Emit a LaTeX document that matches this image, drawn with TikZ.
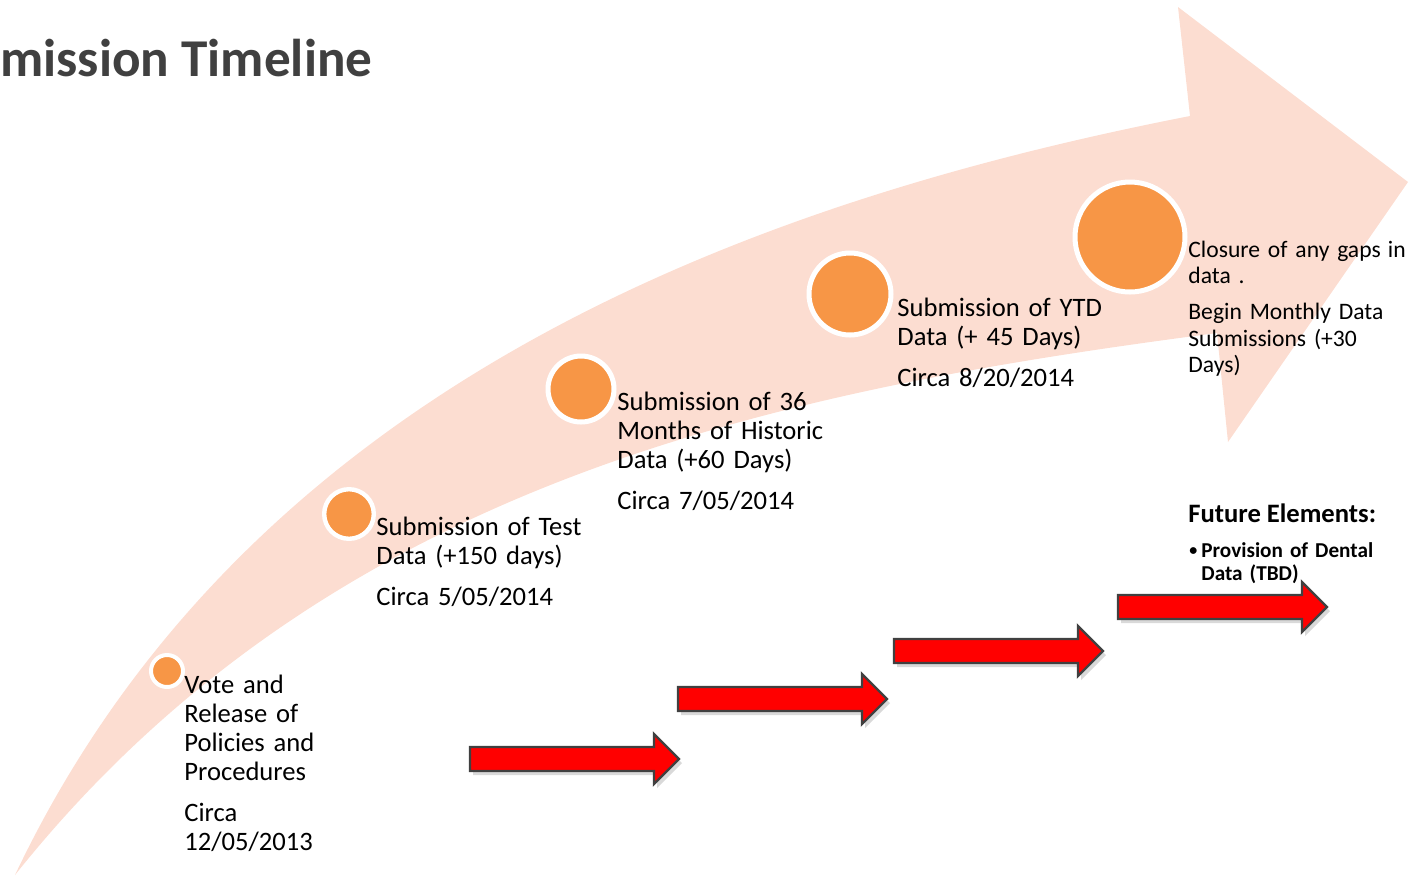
\documentclass[tikz,border=0pt]{standalone}
\usepackage{fontspec}
\setmainfont{Carlito}
\usetikzlibrary{shadows}
\definecolor{bandpink}{RGB}{252,221,209}
\definecolor{stoporange}{RGB}{247,150,70}
\definecolor{titlegray}{RGB}{64,64,64}
\tikzset{
  stopdot/.style={circle,fill=stoporange,draw=white,line width=2.5pt,inner sep=0pt},
  stoptext/.style={anchor=base west,inner sep=0pt,text width=130pt,align=left,font=\fontsize{13.3}{14.5}\selectfont},
  redarr/.style={fill=red,draw=titlegray,line width=1.2pt,drop shadow={shadow xshift=1.5pt,shadow yshift=-2pt,opacity=0.3}}
}
\begin{document}
\begin{tikzpicture}[x=0.5pt,y=-0.5pt]
    \useasboundingbox(0,0)rectangle(1410,875);
    % curved band
    \fill[bandpink](15,875)..controls(250,380)and(760,200)..(1190,116)--(1178,7)--(1408,182)--(1228,442)--(1217,333)..controls(780,390)and(330,480)..(15,875)--cycle;

    \node[anchor=base west,inner sep=0pt,text=titlegray,font=\fontsize{26.6}{30}\selectfont\bfseries](title)at(0,76){mission Timeline};

    \node[stopdot,line width=2pt,minimum size=16pt](c1)at(167,671){};
    \node[stopdot,line width=2.2pt,minimum size=24.8pt](c2)at(349,514){};
    \node[stopdot,minimum size=33pt](c3)at(581,389){};
    \node[stopdot,minimum size=41pt](c4)at(850,294){};
    \node[stopdot,minimum size=55pt](c5)at(1130,237){};

    \node[stoptext](t1)at(184,693){Vote and\\Release of\\Policies and\\Procedures\\[6pt]Circa\\12/05/2013};
    \node[stoptext](t2)at(376,535){Submission of Test\\Data (+150 days)\\[6pt]Circa 5/05/2014};
    \node[stoptext](t3)at(617,410){Submission of 36\\Months of Historic\\Data (+60 Days)\\[6pt]Circa 7/05/2014};
    \node[stoptext](t4)at(897,316){Submission of YTD\\Data (+ 45 Days)\\[6pt]Circa 8/20/2014};
    \node[stoptext,text width=110pt,font=\fontsize{11.8}{13.25}\selectfont](t5)at(1188,257){Closure of any gaps\hspace{3.6pt}in\\data .\\[4.75pt]Begin Monthly Data\\Submissions (+30\\Days)};

    \node[anchor=base west,inner sep=0pt,font=\fontsize{13.3}{15}\selectfont\bfseries](future)at(1188,522){Future Elements:};
    \node[anchor=base west,inner sep=0pt,font=\fontsize{8}{9}\selectfont\bfseries](bullet)at(1189,555){\textbullet};
    \node[stoptext,font=\fontsize{10.6}{11.5}\selectfont\bfseries](item)at(1201,557){Provision of Dental\\Data (TBD)};

    % red steps
    \foreach \x/\y in {470/759,678/699,894/651,1118/607}
        \draw[redarr](\x,\y-12)--++(184,0)--++(0,-13)--++(25,25)--++(-25,25)--++(0,-13)--++(-184,0)--cycle;
\end{tikzpicture}
\end{document}
